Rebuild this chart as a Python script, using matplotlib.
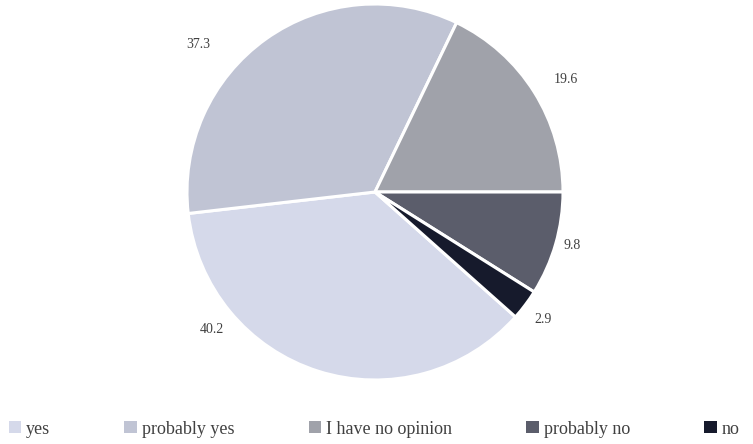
import matplotlib
matplotlib.use("Agg")
import matplotlib.pyplot as plt
from matplotlib.patches import Patch

# data
categories = ['yes', 'probably yes', 'I have no opinion', 'probably no', 'no']
values = [40.2, 37.3, 19.6, 9.8, 2.9]
colors = ['#d5d9ea', '#c0c4d4', '#a0a2aa', '#5b5d6b', '#161a2c']
# where the value labels sit, in units of the pie radius
label_pos = [(-0.867, -0.734), (-0.941, 0.787), (1.016, 0.60), (1.048, -0.287), (0.894, -0.676)]

plt.rcParams['font.family'] = ['Liberation Serif', 'DejaVu Serif']

fig = plt.figure(figsize=(7.53, 4.44), dpi=100)
ax = fig.add_axes([(375 - 188) / 753, (444 - 380) / 444, 376 / 753, 376 / 444])

wedges, texts = ax.pie(values, colors=colors, labels=[f'{v}' for v in values],
                       startangle=-41.64, counterclock=False,
                       wedgeprops=dict(edgecolor='white', linewidth=2.2),
                       textprops=dict(fontsize=10, color='#404040'))
for t, pos in zip(texts, label_pos):
    t.set_position(pos)
    t.set_ha('center')
    t.set_va('center')
ax.set_xlim(-1, 1)
ax.set_ylim(-1, 1)
ax.set_aspect('equal')

handles = [Patch(facecolor=c, edgecolor='none') for c in colors]
fig.legend(handles, categories, loc='lower left', bbox_to_anchor=(-0.003, -0.01),
           ncol=5, frameon=False, fontsize=13, handlelength=0.68, handleheight=0.68,
           handletextpad=0.3, columnspacing=4.1, borderaxespad=0.2,
           labelcolor='#404040')

fig.savefig('out.png', dpi=100)
